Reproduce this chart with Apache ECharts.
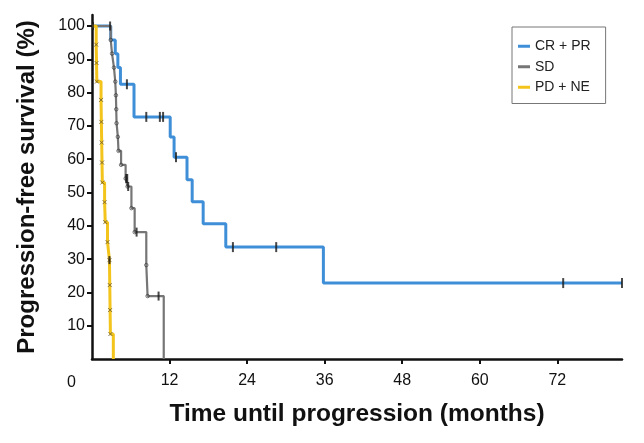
<!DOCTYPE html>
<html>
<head>
<meta charset="utf-8">
<script src="https://cdn.jsdelivr.net/npm/echarts@6/dist/echarts.min.js"></script>
<style>html,body{margin:0;padding:0;background:#fff}#c{width:644px;height:443px}</style>
</head>
<body>
<div id="c"></div>
<script>
// ---- data ----
const seriesNames = ['CR + PR', 'SD', 'PD + NE'];

const crprTimes = [0, 2.9, 3.6, 4.0, 4.4, 6.5, 12.1, 12.7, 14.7, 15.5, 17.2, 20.7, 35.8, 82];
const crprSurv  = [100, 95.8, 91.7, 87.5, 82.5, 72.7, 66.7, 60.6, 53.8, 47.2, 40.6, 33.6, 22.8, 22.8];
const crprCensor = [5.4, 8.4, 10.5, 11.0, 13.0, 21.8, 28.5, 72.9, 82];

const sdTimes = [0, 2.9, 3.1, 3.4, 3.6, 3.7, 3.75, 3.8, 4.0, 4.1, 4.5, 5.2, 5.5, 6.1, 6.6, 8.4, 8.6, 11.1];
const sdSurv  = [100, 95.8, 91.7, 87.5, 83.3, 79.2, 75, 70.8, 66.7, 62.5, 58.3, 54.2, 51.8, 45.3, 38.1, 28.2, 18.9, 0];
const sdCensor = [2.8, 5.3, 5.45, 5.6, 6.9, 10.3];

const pdTimes = [0, 0.65, 0.7, 0.75, 1.4, 1.45, 1.5, 1.55, 1.6, 1.95, 2.05, 2.4, 2.7, 2.75, 2.8, 2.85, 3.3];
const pdSurv  = [100, 94.4, 88.9, 83.3, 77.8, 71.2, 65.0, 59.0, 53.0, 47.1, 41.1, 35.1, 29.7, 22.2, 14.7, 7.5, 0];
const pdCensor = [0.15, 2.7];

const xTicks = [12, 24, 36, 48, 60, 72];
const yTicks = [10, 20, 30, 40, 50, 60, 70, 80, 90, 100];

// ---- helpers ----
function pairs(t, s) { return t.map((v, i) => [v, s[i]]); }
function survAt(t, s, x) { let v = s[0]; for (let i = 0; i < t.length; i++) { if (t[i] <= x) v = s[i]; } return v; }
function censorPts(t, s, c) { return c.map(x => [x, survAt(t, s, x)]); }
function eventPts(t, s) { return t.slice(1).map((v, i) => [v, s[i + 1]]).filter(p => p[1] > 0); }

const blue = '#3f8fd8', gray = '#767676', yellow = '#f3c41c';
const font = '"Liberation Sans", Arial, sans-serif';
const xPath = 'path://M0,0L10,10M10,0L0,10';

const chart = echarts.init(document.getElementById('c'), null, {renderer: 'canvas'});
chart.setOption({
  animation: false,
  textStyle: {fontFamily: font},
  grid: {left: 92, right: 22, top: 15, bottom: 84, containLabel: false},
  xAxis: {
    type: 'value', min: 0, max: 82,
    axisLine: {show: true, lineStyle: {color: '#111', width: 2.5}},
    axisTick: {show: true, length: 5, lineStyle: {color: '#111', width: 2}, customValues: xTicks},
    axisLabel: {customValues: xTicks, fontSize: 16, color: '#111', margin: 14, fontFamily: font},
    splitLine: {show: false},
    name: 'Time until progression (months)', nameLocation: 'middle', nameGap: 43,
    nameTextStyle: {fontSize: 24.5, fontWeight: 'bold', color: '#111', fontFamily: font}
  },
  yAxis: {
    type: 'value', min: 0, max: 103.3,
    axisLine: {show: true, lineStyle: {color: '#111', width: 2.5}},
    axisTick: {show: true, length: 5, lineStyle: {color: '#111', width: 2}, customValues: yTicks},
    axisLabel: {customValues: yTicks, fontSize: 16, color: '#111', margin: 7, fontFamily: font},
    splitLine: {show: false},
    name: 'Progression-free survival (%)', nameLocation: 'middle', nameGap: 53,
    nameTextStyle: {fontSize: 24, fontWeight: 'bold', color: '#111', fontFamily: font}
  },
  legend: {
    data: seriesNames, orient: 'vertical', left: 512, top: 27,
    icon: 'rect', itemWidth: 12, itemHeight: 3, itemGap: 6,
    padding: [12, 15, 9, 6],
    borderColor: '#777', borderWidth: 1,
    textStyle: {fontSize: 14, color: '#222', fontFamily: font, lineHeight: 14.5}
  },
  graphic: [{
    type: 'text', left: 67, top: 375,
    style: {text: '0', font: '16px ' + font, fill: '#111'}
  }],
  series: [
    {name: 'CR + PR', type: 'line', step: 'end', data: pairs(crprTimes, crprSurv), showSymbol: false,
     lineStyle: {color: blue, width: 3}, itemStyle: {color: blue}, z: 2},
    {name: 'SD', type: 'line', step: 'end', data: pairs(sdTimes, sdSurv), showSymbol: false,
     lineStyle: {color: gray, width: 2.2}, itemStyle: {color: gray}, z: 3},
    {name: 'PD + NE', type: 'line', step: 'end', data: pairs(pdTimes, pdSurv), showSymbol: false,
     lineStyle: {color: yellow, width: 3}, itemStyle: {color: yellow}, z: 4},
    {type: 'scatter', data: eventPts(sdTimes, sdSurv), symbol: 'circle', symbolSize: 3.5,
     itemStyle: {color: 'rgba(0,0,0,0)', borderColor: '#333', borderWidth: 0.8}, z: 6, silent: true},
    {type: 'scatter', data: eventPts(pdTimes, pdSurv), symbol: xPath, symbolSize: 4,
     itemStyle: {color: 'rgba(0,0,0,0)', borderColor: '#6b5a2a', borderWidth: 1}, z: 6, silent: true},
    {type: 'scatter', data: censorPts(crprTimes, crprSurv, crprCensor), symbol: 'rect', symbolSize: [2, 10],
     itemStyle: {color: '#1a1a1a'}, z: 7, silent: true},
    {type: 'scatter', data: censorPts(sdTimes, sdSurv, sdCensor), symbol: 'rect', symbolSize: [2, 9],
     itemStyle: {color: '#1a1a1a'}, z: 7, silent: true},
    {type: 'scatter', data: censorPts(pdTimes, pdSurv, pdCensor), symbol: 'rect', symbolSize: [2, 8],
     itemStyle: {color: '#1a1a1a'}, z: 7, silent: true}
  ]
});
</script>
</body>
</html>
